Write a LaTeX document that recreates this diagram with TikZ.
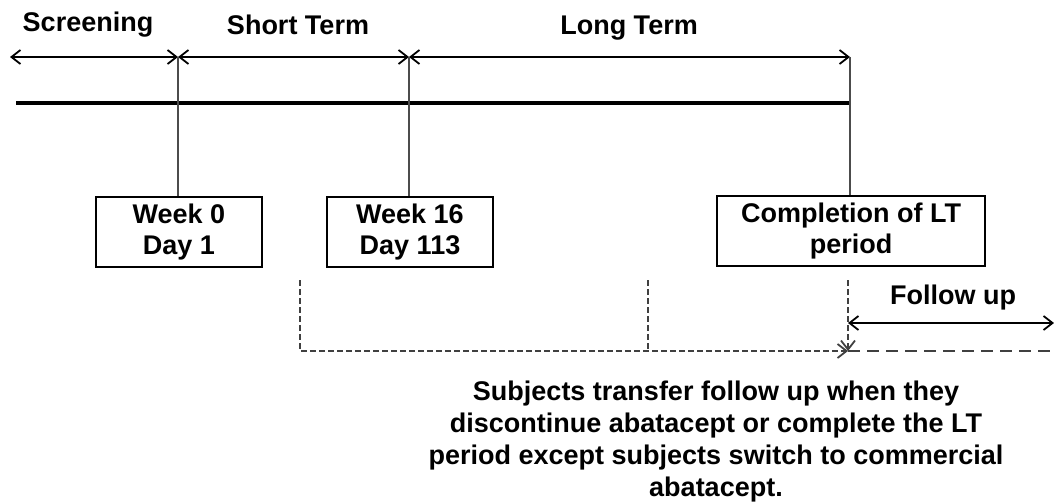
\documentclass[tikz,border=0pt]{standalone}
\usepackage{fontspec}
\setmainfont{Liberation Sans}
\usetikzlibrary{arrows.meta,positioning}

\begin{document}
\begin{tikzpicture}[
  x=0.5pt,y=-0.5pt,
  lbl/.style={font=\bfseries\fontsize{13.5}{16}\selectfont,inner sep=0pt,align=center},
  event/.style={draw,line width=1.1pt,font=\bfseries\fontsize{13.5}{15.5}\selectfont,
    align=center,minimum width=#1,minimum height=35pt,inner sep=2pt,anchor=north},
  span/.style={{Straight Barb[length=4.5pt,width=7pt]}-{Straight Barb[length=4.5pt,width=7pt]},line width=0.9pt},
  tick/.style={draw=black!70,line width=1pt},
  guide/.style={draw=black!75,line width=0.9pt,dash pattern=on 3pt off 1.5pt},
]
  \useasboundingbox (0,0) rectangle (1054,503);
  % phase markers
  \coordinate (s0) at (10,57);
  \coordinate (s1) at (178,57);
  \coordinate (s2) at (409,57);
  \coordinate (s3) at (850,57);
  \coordinate (tl0) at (16,103);
  \coordinate (tl1) at (850,103);
  \draw[span] (s0) -- (s1);
  \draw[span] (s1) -- (s2);
  \draw[span] (s2) -- (s3);
  \draw[line width=2.2pt] (tl0) -- (tl1);
  \node[lbl] (scr) at (88,25) {Screening};
  \node[lbl] (st) at (298,25) {Short Term};
  \node[lbl] (lt) at (629,28) {Long Term};
  % events
  \node[event=83pt] (wk0) at (179,196) {Week 0\\Day 1};
  \node[event=83pt] (wk16) at (410,196) {Week 16\\Day 113};
  \node[event=134pt] (ltend) at (851,195) {Completion of LT\\period};
  \draw[tick] (s1) -- (wk0.north -| s1);
  \draw[tick] (s2) -- (wk16.north -| s2);
  \draw[tick] (s3) -- (ltend.north -| s3);
  % transfer to follow up
  \coordinate (d1) at (300,280);
  \coordinate (d2) at (648,280);
  \coordinate (d2b) at (648,351);
  \coordinate (d3) at (848,280);
  \coordinate (d3b) at (848,351);
  \coordinate (dend) at (1054,351);
  \coordinate (f0) at (848,323);
  \coordinate (f1) at (1054,323);
  \draw[guide,-{Straight Barb[length=4.5pt,width=7pt]}] (d1) |- (d3b);
  \draw[guide] (d2) -- (d2b);
  \draw[guide,-{Straight Barb[length=4.5pt,width=7pt]}] (d3) -- (d3b);
  \draw[guide,dash pattern=on 6pt off 3.5pt] (d3b) -- (dend);
  \draw[span] (f0) -- (f1);
  \node[lbl] (fu) at (953,298) {Follow up};
  \node[lbl] (note) at (716,442) {Subjects transfer follow up when they\\
    discontinue abatacept or complete the LT\\
    period except subjects switch to commercial\\
    abatacept.};
\end{tikzpicture}
\end{document}
